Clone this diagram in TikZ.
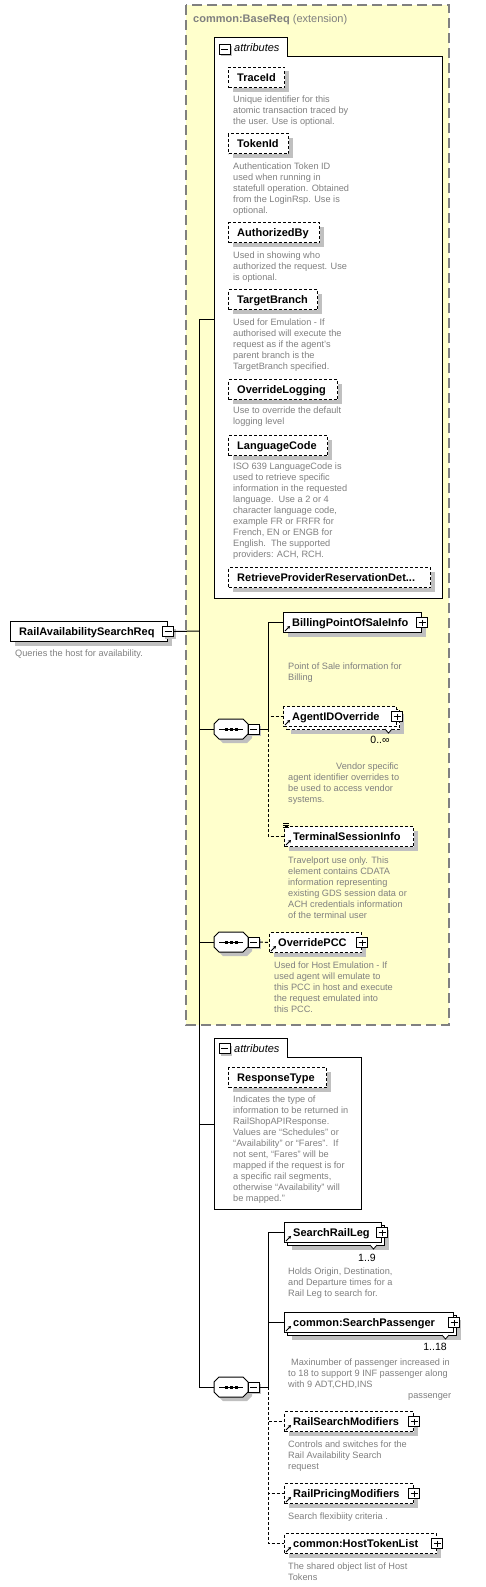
\documentclass[tikz,border=0pt]{standalone}
\usepackage{fontspec}
\setmainfont{Liberation Sans}
\usetikzlibrary{arrows.meta,calc}
\definecolor{ylw}{RGB}{255,255,204}
\definecolor{dgray}{RGB}{128,128,128}
\definecolor{shadowgray}{RGB}{192,192,192}
\tikzset{
  boxshadow/.style={preaction={draw=none, fill=shadowgray, transform canvas={shift={(4pt,-4pt)}}}},
  multishadow/.style={preaction={draw=none, fill=shadowgray, transform canvas={shift={(7pt,-7pt)}}},
                      preaction={draw=black, fill=white, line width=1pt, #1, transform canvas={shift={(3pt,-3pt)}}}},
  multishadow/.default={solid},
  elsolid/.style={draw=black, line width=1pt, fill=white, boxshadow},
  eldash/.style={draw=black, line width=1pt, dash pattern=on 3pt off 2pt, fill=white, boxshadow},
  elsolidm/.style={draw=black, line width=1pt, fill=white, multishadow=solid},
  eldashm/.style={draw=black, line width=1pt, dash pattern=on 3pt off 2pt, fill=white, multishadow={dash pattern=on 3pt off 2pt}},
  elname/.style={font=\fontsize{11}{13}\selectfont\bfseries, inner sep=0},
  descr/.style={font=\fontsize{9.2}{11}\selectfont, text=dgray, align=left, inner sep=0},
  mult/.style={font=\fontsize{10.5}{12}\selectfont, inner sep=0},
  conn/.style={draw=black, line width=1pt},
  optconn/.style={draw=black, line width=1pt, dash pattern=on 3pt off 2pt},
  minusbox/.style={draw, fill=white, line width=.8pt, minimum width=11pt, minimum height=10pt, inner sep=0,
     preaction={draw=none, fill=shadowgray, transform canvas={shift={(2pt,-2pt)}}},
     path picture={\draw[line width=.8pt] ([xshift=2pt]path picture bounding box.west) -- ([xshift=-2pt]path picture bounding box.east);}},
  plusbox/.style={draw, fill=white, line width=.8pt, minimum width=11pt, minimum height=10pt, inner sep=0,
     path picture={\draw[line width=.8pt] ([xshift=2pt]path picture bounding box.west) -- ([xshift=-2pt]path picture bounding box.east);
                   \draw[line width=.8pt] ([yshift=-2pt]path picture bounding box.north) -- ([yshift=2pt]path picture bounding box.south);}},
  refarrow/.style={line width=.9pt, -{Stealth[length=3pt,width=3.5pt]}},
}
\newcommand\elbox[6]{%
  \node[#2, anchor=north west, minimum width={#5-#3}, minimum height=20pt, inner sep=0] (#1) at (#3,#4) {};
  \node[elname, anchor=base west] (#1-t) at ([xshift=9pt,yshift=-4pt]#1.west) {#6};
}
\newcommand\refmark[1]{\draw[refarrow] ([xshift=2pt,yshift=2pt]#1.south west) -- ++(5,-5);}
\newcommand\plusmark[1]{\node[plusbox] (#1-p) at (#1.east) {};}
\newcommand\notch[1]{\draw[fill=white, line width=.8pt] ([xshift=-12pt,yshift=-2pt]#1.south east) -- ++(3.5,4) -- ++(3.5,-4);}
\newcommand\desc[4]{\node[descr, anchor=north west] (#1) at (#2,#3-4.2) {\strut #4};}
\newcommand\seqnode[3]{%
  \node[minimum width=34pt, minimum height=20pt, inner sep=0, anchor=west] (#1) at (#2,#3) {};
  \begin{scope}[shift={(#2,#3)}]
    \fill[shadowgray] (9,-6) -- (33,-6) -- (38,-1) -- (38,9) -- (33,14) -- (9,14) -- (4,9) -- (4,-1) -- cycle;
    \draw[fill=white, line width=1pt] (5,-10) -- (29,-10) -- (34,-5) -- (34,5) -- (29,10) -- (5,10) -- (0,5) -- (0,-5) -- cycle;
    \draw[line width=1pt] (5,0) -- (29,0);
    \foreach \dx in {12,17,22} \fill (\dx-1.5,-1.5) rectangle (\dx+1.5,1.5);
  \end{scope}
  \node[minusbox, anchor=west] (#1-m) at (#2+34,#3) {};
}
\begin{document}
\begin{tikzpicture}[x=1pt,y=-1pt]
\useasboundingbox (0,0) rectangle (485,1587);
\fill[white] (0,0) rectangle (485,1587);

% extension box
\draw[fill=ylw, draw=dgray, line width=1.5pt, dash pattern=on 10pt off 5pt] (186,5) rectangle (449,1025);
\node[anchor=base west, inner sep=0, text=dgray, font=\fontsize{11}{13}\selectfont] (exttitle) at (193,23) {\textbf{common:BaseReq} (extension)};

% attributes group 1
\draw[fill=white, line width=1pt] (214,598) -- (214,38) -- (287,38) -- (287,57) -- (442,57) -- (442,598) -- cycle;
\node[minusbox] (attrA-m) at (224.5,49) {};
\node[anchor=base west, inner sep=0, font=\fontsize{11}{13}\selectfont\itshape] (attrA-t) at (234,52) {attributes};
\coordinate (attrA) at (214,319);

\elbox{traceid}{eldash}{228}{67}{284}{TraceId}
\desc{traceid-d}{233}{99}{Unique identifier for this\\atomic transaction traced by\\the user. Use is optional.}
\elbox{tokenid}{eldash}{228}{133}{288}{TokenId}
\desc{tokenid-d}{233}{166}{Authentication Token ID\\used when running in\\statefull operation. Obtained\\from the LoginRsp. Use is\\optional.}
\elbox{authby}{eldash}{228}{222}{319}{AuthorizedBy}
\desc{authby-d}{233}{255}{Used in showing who\\authorized the request. Use\\is optional.}
\elbox{tbranch}{eldash}{228}{289}{317}{TargetBranch}
\desc{tbranch-d}{233}{322}{Used for Emulation - If\\authorised will execute the\\request as if the agent's\\parent branch is the\\TargetBranch specified.}
\elbox{ovlog}{eldash}{228}{379}{337}{OverrideLogging}
\desc{ovlog-d}{233}{410}{Use to override the default\\logging level}
\elbox{langcode}{eldash}{228}{435}{327}{LanguageCode}
\desc{langcode-d}{233}{466}{ISO 639 LanguageCode is\\used to retrieve specific\\information in the requested\\language.\ \ Use a 2 or 4\\character language code,\\example FR or FRFR for\\French, EN or ENGB for\\English.\ \ The supported\\providers: ACH, RCH.}
\elbox{rprd}{eldash}{228}{567}{430}{RetrieveProviderReservationDet...}

% root
\elbox{root}{elsolid}{10}{621}{167}{RailAvailabilitySearchReq}
\node[minusbox] (root-m) at (root.east) {};
\desc{root-d}{15}{653}{Queries the host for availability.}

% sequence 1
\seqnode{seqA}{214}{729}
\coordinate (bA) at (268,729);
\elbox{billing}{elsolid}{283}{612}{421}{BillingPointOfSaleInfo}
\plusmark{billing}\refmark{billing}
\desc{billing-d}{288}{666}{Point of Sale information for\\Billing}
\elbox{agent}{eldashm}{283}{706}{396}{AgentIDOverride}
\notch{agent}\plusmark{agent}\refmark{agent}
\node[mult, anchor=base] (agent-n) at (380,743) {0..∞};
\desc{agent-d}{288}{766}{\hspace*{48pt}Vendor specific\\agent identifier overrides to\\be used to access vendor\\systems.}
\elbox{terminal}{eldash}{284}{826}{413}{TerminalSessionInfo}
\refmark{terminal}
\draw[line width=.7pt] ([xshift=-1pt,yshift=3pt]terminal.north west) -- ++(6,0);
\draw[line width=.7pt] ([xshift=-1pt,yshift=1pt]terminal.north west) -- ++(6,0);
\draw[line width=.7pt] ([xshift=-1pt,yshift=-1pt]terminal.north west) -- ++(6,0);
\desc{terminal-d}{288}{860}{Travelport use only. This\\element contains CDATA\\information representing\\existing GDS session data or\\ACH credentials information\\of the terminal user}

% sequence 2
\seqnode{seqB}{214}{942}
\elbox{ovpcc}{eldash}{269}{932}{361}{OverridePCC}
\plusmark{ovpcc}\refmark{ovpcc}
\desc{ovpcc-d}{274}{965}{Used for Host Emulation - If\\used agent will emulate to\\this PCC in host and execute\\the request emulated into\\this PCC.}

% attributes group 2
\draw[fill=white, line width=1pt] (214,1209) -- (214,1038) -- (287,1038) -- (287,1057) -- (361,1057) -- (361,1209) -- cycle;
\node[minusbox] (attrB-m) at (224.5,1048.5) {};
\node[anchor=base west, inner sep=0, font=\fontsize{11}{13}\selectfont\itshape] (attrB-t) at (234,1052) {attributes};
\coordinate (attrB) at (214,1124);
\elbox{resptype}{eldash}{228}{1067}{326}{ResponseType}
\desc{resptype-d}{233}{1099}{Indicates the type of\\information to be returned in\\RailShopAPIResponse.\\Values are “Schedules” or\\“Availability” or “Fares”.\ \ If\\not sent, “Fares” will be\\mapped if the request is for\\a specific rail segments,\\otherwise “Availability” will\\be mapped.”}

% sequence 3
\seqnode{seqC}{214}{1387}
\coordinate (bC) at (268,1387);
\elbox{srleg}{elsolidm}{284}{1222}{381}{SearchRailLeg}
\notch{srleg}\plusmark{srleg}\refmark{srleg}
\node[mult, anchor=base] (srleg-n) at (367,1261) {1..9};
\desc{srleg-d}{288}{1271}{Holds Origin, Destination,\\and Departure times for a\\Rail Leg to search for.}
\elbox{spass}{elsolidm}{284}{1312}{453}{common:SearchPassenger}
\notch{spass}\plusmark{spass}\refmark{spass}
\node[mult, anchor=base] (spass-n) at (435,1350) {1..18};
\desc{spass-d}{288}{1362}{\hspace*{3pt}Maxinumber of passenger increased in\\to 18 to support 9 INF passenger along\\with 9 ADT,CHD,INS\\\hspace*{120pt}passenger}
\elbox{rsmod}{eldash}{284}{1411}{413}{RailSearchModifiers}
\plusmark{rsmod}\refmark{rsmod}
\desc{rsmod-d}{288}{1444}{Controls and switches for the\\Rail Availability Search\\request}
\elbox{rpmod}{eldash}{284}{1483}{413}{RailPricingModifiers}
\plusmark{rpmod}\refmark{rpmod}
\desc{rpmod-d}{288}{1516}{Search flexibiity criteria .}
\elbox{htl}{eldash}{284}{1533}{436}{common:HostTokenList}
\plusmark{htl}\refmark{htl}
\desc{htl-d}{288}{1566}{The shared object list of Host\\Tokens}

% connectors
\coordinate (hub) at (199,631);
\draw[conn] (root-m.east) -- (hub);
\draw[conn] (hub) |- (attrA);
\draw[conn] (hub) |- (seqA.west);
\draw[conn] (hub) |- (seqB.west);
\draw[conn] (hub) |- (attrB);
\draw[conn] (hub) |- (seqC.west);

\draw[conn] (seqA-m.east) -- (bA);
\draw[conn] (bA) |- (billing.west);
\draw[optconn] (bA) |- (agent.west);
\draw[optconn] (bA) |- (terminal.west);

\draw[optconn] (seqB-m.east) -- (ovpcc.west);

\draw[conn] (seqC-m.east) -- (bC);
\draw[conn] (bC) |- (srleg.west);
\draw[conn] (bC) |- (spass.west);
\draw[optconn] (bC) |- (rsmod.west);
\draw[optconn] (bC) |- (rpmod.west);
\draw[optconn] (bC) |- (htl.west);
\end{tikzpicture}
\end{document}
